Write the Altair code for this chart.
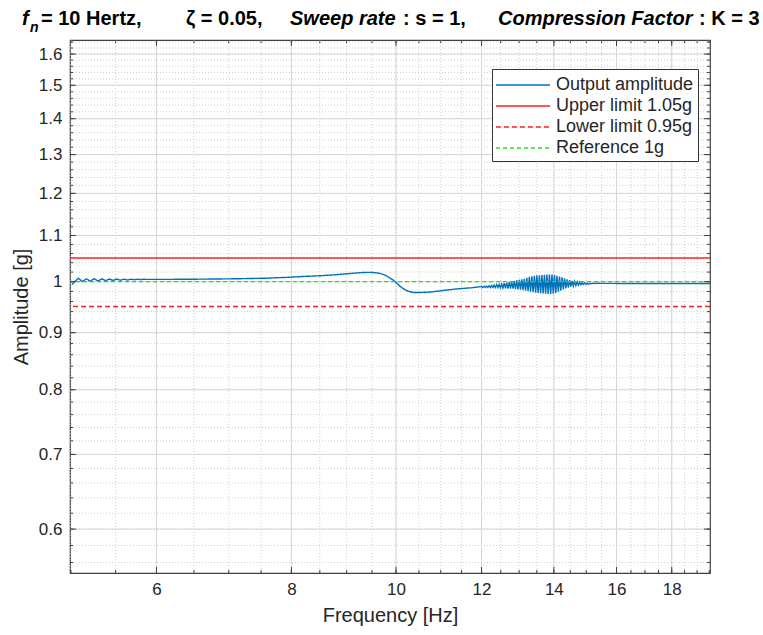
import altair as alt
import pandas as pd

# ---------------- data ----------------
# slow part of the output amplitude (before the burst)
freq_a = [
    5.012, 5.045, 5.080, 5.124, 5.168, 5.210, 5.254, 5.300, 5.342, 5.383,
    5.426, 5.470, 5.512, 5.556, 5.600, 5.640, 5.680, 5.722, 5.762, 5.800,
    5.837, 5.913,
    6.172, 6.583, 7.120, 7.568, 7.930, 8.246, 8.520, 8.795, 9.020, 9.180,
    9.299, 9.410, 9.521, 9.620, 9.710, 9.790, 9.864, 9.930, 10.003, 10.070,
    10.143, 10.220, 10.297, 10.370, 10.463, 10.550, 10.780, 11.017, 11.256,
    11.500, 11.749,
]
amp_a = [
    0.994, 1.001, 1.007, 1.000, 1.006, 1.001, 1.006, 1.0015, 1.0058, 1.002,
    1.0055, 1.0025, 1.0055, 1.003, 1.0052, 1.0035, 1.0052, 1.004, 1.005, 1.0043,
    1.0049, 1.0047,
    1.0048, 1.0052, 1.006, 1.0072, 1.009, 1.011, 1.0124, 1.0145, 1.0166, 1.018,
    1.019, 1.0194, 1.0192, 1.018, 1.0158, 1.0124, 1.008, 1.004, 0.998, 0.9918,
    0.9865, 0.9822, 0.9795, 0.978, 0.9778, 0.978, 0.979, 0.9815, 0.984,
    0.986, 0.9875,
]
# oscillating burst around 12-15 Hz
freq_b = [
    12.000, 12.032, 12.064, 12.096, 12.129, 12.161, 12.194, 12.227, 12.260, 12.293,
    12.326, 12.359, 12.392, 12.425, 12.459, 12.492, 12.526, 12.559, 12.593, 12.627,
    12.661, 12.695, 12.729, 12.763, 12.797, 12.831, 12.866, 12.900, 12.935, 12.970,
    13.005, 13.040, 13.075, 13.110, 13.145, 13.180, 13.216, 13.251, 13.287, 13.322,
    13.358, 13.394, 13.430, 13.466, 13.502, 13.538, 13.575, 13.611, 13.648, 13.684,
    13.721, 13.758, 13.795, 13.832, 13.869, 13.906, 13.944, 13.981, 14.019, 14.056,
    14.094, 14.132, 14.170, 14.208, 14.246, 14.284, 14.323, 14.361, 14.400, 14.438,
    14.477, 14.516, 14.555, 14.594, 14.633, 14.672, 14.712, 14.751, 14.791, 14.831,
    14.871, 14.911, 14.951, 14.991, 15.031, 15.071, 15.112, 15.152, 15.193, 15.234,
    15.275, 15.316, 15.357,
]
amp_b = [
    0.990, 0.988, 0.9905, 0.9882, 0.9910, 0.9882, 0.9916, 0.9881, 0.992, 0.988,
    0.993, 0.988, 0.994, 0.9878, 0.9945, 0.9873, 0.995, 0.987, 0.997, 0.9865,
    0.998, 0.986, 0.999, 0.986, 1.000, 0.9855, 1.001, 0.9848, 1.0025, 0.9843,
    1.004, 0.9835, 1.005, 0.9825, 1.006, 0.9815, 1.008, 0.9805, 1.010, 0.9795,
    1.011, 0.9785, 1.012, 0.9775, 1.013, 0.9768, 1.0135, 0.9763, 1.014, 0.9758,
    1.0145, 0.9753, 1.015, 0.975, 1.015, 0.975, 1.015, 0.9755, 1.014, 0.977,
    1.012, 0.9793, 1.0105, 0.9818, 1.009, 0.984, 1.007, 0.986, 1.005, 0.988,
    1.003, 0.9898, 1.0015, 0.991, 1.0005, 0.992, 0.9995, 0.9929, 0.9988, 0.9936,
    0.998, 0.9943, 0.9975, 0.9948, 0.997, 0.9951, 0.9968, 0.9956, 0.9971, 0.996,
    0.9969, 0.9962, 0.9967,
]
# settled tail
freq_c = [15.440, 16.210, 17.660, 19.250, 19.530]
amp_c = [0.9966, 0.9963, 0.9962, 0.9962, 0.9962]

series_names = ["Output amplitude", "Upper limit 1.05g", "Lower limit 0.95g", "Reference 1g"]
series_colors = ["#0072BD", "#FF2020", "#FF2020", "#22E022"]
series_dashes = [[1, 0], [1, 0], [5, 3], [4, 3]]
limit_names = ["Upper limit 1.05g", "Lower limit 0.95g"]
limit_values = [1.05, 0.95]
reference_names = ["Reference 1g"]
reference_values = [1.0]

x_major = [6, 8, 10, 12, 14, 16, 18]
x_minor = [5.0, 5.5, 6.0, 6.5, 7.0, 7.5, 8.0, 8.5, 9.0, 9.5, 10.0, 10.5, 11.0, 11.5,
           12.0, 12.5, 13.0, 13.5, 14.0, 14.5, 15.0, 15.5, 16.0, 16.5, 17.0, 17.5,
           18.0, 18.5, 19.0, 19.5]
y_major = [0.6, 0.7, 0.8, 0.9, 1.0, 1.1, 1.2, 1.3, 1.4, 1.5, 1.6]
y_minor = [0.56, 0.58, 0.60, 0.62, 0.64, 0.66, 0.68, 0.70, 0.72, 0.74, 0.76, 0.78,
           0.80, 0.82, 0.84, 0.86, 0.88, 0.90, 0.92, 0.94, 0.96, 0.98, 1.00, 1.02,
           1.04, 1.06, 1.08, 1.10, 1.12, 1.14, 1.16, 1.18, 1.20, 1.22, 1.24, 1.26,
           1.28, 1.30, 1.32, 1.34, 1.36, 1.38, 1.40, 1.42, 1.44, 1.46, 1.48, 1.50,
           1.52, 1.54, 1.56, 1.58, 1.60, 1.62, 1.64]

# ---------------- layout ----------------
W, H = 640, 533
FONT = "Liberation Sans"
INK = "#262626"
AX = "#404040"

xs = alt.Scale(type="log", domain=[4.99, 19.53], nice=False)
ys = alt.Scale(type="log", domain=[0.548, 1.647], nice=False)
cscale = alt.Scale(domain=series_names, range=series_colors)
dscale = alt.Scale(domain=series_names, range=series_dashes)

x_axis = alt.Axis(
    values=x_major, format="~g", title="Frequency [Hz]", grid=False, ticks=False,
    domain=False, labelFont=FONT, labelFontSize=17, labelColor=INK, labelPadding=8,
    titleFont=FONT, titleFontSize=20, titleFontWeight="normal", titleColor=INK,
    titlePadding=8, labelFlush=False)
y_axis = alt.Axis(
    values=y_major, format="~g", title="Amplitude [g]", grid=False, ticks=False,
    domain=False, labelFont=FONT, labelFontSize=17, labelColor=INK, labelPadding=8,
    titleFont=FONT, titleFontSize=20, titleFontWeight="normal", titleColor=INK,
    titlePadding=7, labelFlush=False)

# long horizontal line sample drawn as a custom symbol path
legend = alt.Legend(
    title=None, orient="none", legendX=422, legendY=29,
    symbolType="M-1.091,0H3.818", symbolSize=484, symbolStrokeWidth=1.5,
    labelFont=FONT, labelFontSize=18, labelColor=INK, labelOffset=36,
    fillColor="white", strokeColor="#333333", padding=4, rowPadding=0,
)

df_out = pd.DataFrame({
    "freq": freq_a + freq_b + freq_c,
    "amp": amp_a + amp_b + amp_c,
    "series": series_names[0],
})
df_lim = pd.DataFrame({"series": limit_names, "value": limit_values})
df_ref = pd.DataFrame({"series": reference_names, "value": reference_values})

def X(field):
    return alt.X(field, scale=xs, axis=x_axis)

def Y(field):
    return alt.Y(field, scale=ys, axis=y_axis)

def grid(vals, ch, major):
    d = pd.DataFrame({"v": vals})
    m = alt.Chart(d).mark_rule(
        color="#d6d6d6" if major else "#cfcfcf",
        strokeWidth=1,
        strokeDash=[1, 0] if major else [1, 2],
    )
    return m.encode(x=X("v:Q")) if ch == "x" else m.encode(y=Y("v:Q"))

def ticks(vals, ch, length):
    d = pd.DataFrame({"v": vals})
    m = alt.Chart(d).mark_rule(color=AX)
    if ch == "x":
        return [m.encode(x=X("v:Q"), y=alt.value(H), y2=alt.value(H - length)),
                m.encode(x=X("v:Q"), y=alt.value(0), y2=alt.value(length))]
    return [m.encode(y=Y("v:Q"), x=alt.value(0), x2=alt.value(length)),
            m.encode(y=Y("v:Q"), x=alt.value(W - length), x2=alt.value(W))]

line = alt.Chart(df_out).mark_line(strokeWidth=1.4, clip=True).encode(
    x=X("freq:Q"),
    y=Y("amp:Q"),
    order="freq:Q",
    color=alt.Color("series:N", scale=cscale, legend=legend),
    strokeDash=alt.StrokeDash("series:N", scale=dscale, legend=legend),
)

limits = alt.Chart(df_lim).mark_rule(strokeWidth=1.6).encode(
    y=Y("value:Q"),
    color=alt.Color("series:N", scale=cscale),
    strokeDash=alt.StrokeDash("series:N", scale=dscale),
)
reference = alt.Chart(df_ref).mark_rule(strokeWidth=1.3).encode(
    y=Y("value:Q"),
    color=alt.Color("series:N", scale=cscale),
    strokeDash=alt.StrokeDash("series:N", scale=dscale),
)

one = pd.DataFrame({"k": [0]})
def txt(s, x, y, size=20, italic=False):
    return alt.Chart(one).mark_text(
        text=s, align="left", baseline="alphabetic", font=FONT, fontSize=size,
        fontWeight="bold", fontStyle="italic" if italic else "normal", color="black",
    ).encode(x=alt.value(x), y=alt.value(y))

title_layers = [
    txt("f", -48, -15, italic=True),
    txt("n", -40, -8, size=14, italic=True),
    txt("= 10 Hertz,", -29, -15),
    txt("ζ = 0.05,", 116, -15),
    txt("Sweep rate", 220, -15, italic=True),
    txt(": s = 1,", 333, -15),
    txt("Compression Factor", 428, -15, italic=True),
    txt(": K = 3", 629, -15),
]

layers = (
    [grid(x_minor, "x", False), grid(y_minor, "y", False),
     grid(x_major, "x", True), grid(y_major, "y", True),
     line, limits, reference]
    + ticks(x_minor, "x", 3) + ticks(x_major, "x", 6)
    + ticks(y_minor, "y", 3) + ticks(y_major, "y", 6)
    + title_layers
)

chart = alt.layer(*layers).resolve_scale(color="shared", strokeDash="shared").properties(
    width=W, height=H,
    padding={"left": 70, "top": 40, "right": 53, "bottom": 62},
    autosize=alt.AutoSizeParams(type="none"),
    background="white",
).configure_view(stroke=AX, strokeWidth=1.2)

chart.save("out.html", embed_options={"renderer": "svg", "actions": False})
